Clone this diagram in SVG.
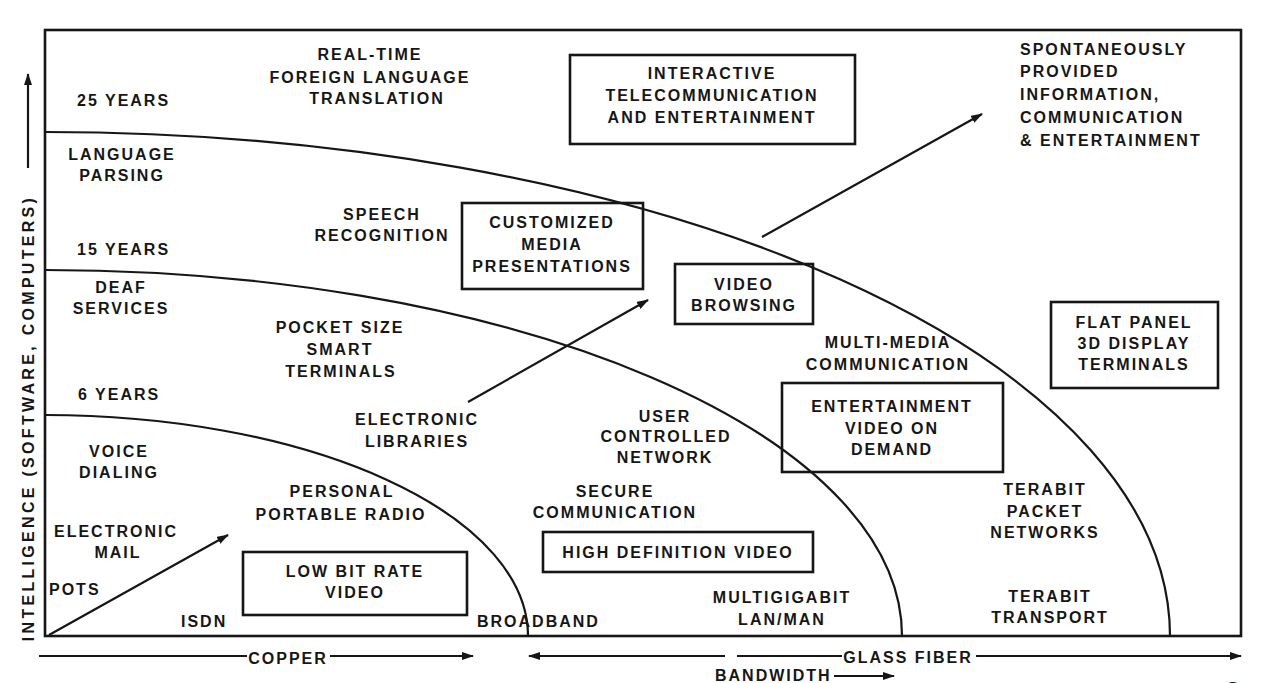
<svg xmlns="http://www.w3.org/2000/svg" width="1262" height="683" viewBox="0 0 1262 683">
<style>
text{font-family:"Liberation Sans",Arial,sans-serif;font-size:16px;font-weight:bold;letter-spacing:2px;fill:#161616}
.c{text-anchor:middle}
.ln{fill:none;stroke:#161616;stroke-width:2.2}
.bx{fill:none;stroke:#161616;stroke-width:2.6}
.ar{fill:none;stroke:#161616;stroke-width:2.2;marker-end:url(#ah)}
</style>
<defs>
<marker id="ah" viewBox="0 0 12 8" refX="11" refY="4" markerWidth="12" markerHeight="8" markerUnits="userSpaceOnUse" orient="auto">
<path d="M0,0 L12,4 L0,8 z" fill="#161616"/>
</marker>
</defs>
<rect width="1262" height="683" fill="#fff"/>
<g id="frame">
<rect x="45" y="30" width="1196" height="606" class="bx"/>
</g>
<g id="curves">
<path class="ln" d="M45,132 A1125,504 0 0 1 1170,636"/>
<path class="ln" d="M45,270 A857,366 0 0 1 902,636"/>
<path class="ln" d="M45,415 A483,221 0 0 1 528,636"/>
</g>
<g id="axes">
<line class="ar" x1="28" y1="168" x2="28" y2="74"/>
<text transform="translate(34,418) rotate(-90)" class="c" style="letter-spacing:3.3px">INTELLIGENCE (SOFTWARE, COMPUTERS)</text>
<line class="ln" x1="39" y1="656" x2="247" y2="656"/>
<text x="288" y="664" class="c">COPPER</text>
<line class="ar" x1="330" y1="656" x2="473" y2="656"/>
<line class="ar" x1="725" y1="656" x2="529" y2="656"/>
<line class="ln" x1="737" y1="656" x2="842" y2="656"/>
<text x="908" y="663" class="c">GLASS FIBER</text>
<line class="ar" x1="976" y1="656" x2="1241" y2="656"/>
<text x="715" y="681">BANDWIDTH</text>
<line class="ar" x1="834" y1="676" x2="894" y2="676"/>
<text x="1226" y="696" style="font-size:20px;font-weight:normal">Sc</text>
</g>
<g id="connectors">
<line class="ar" x1="49" y1="635" x2="228" y2="535"/>
<line class="ar" x1="468" y1="402" x2="648" y2="300"/>
<line class="ar" x1="762" y1="237" x2="982" y2="114"/>
</g>
<g id="n-years">
<text x="77" y="106">25 YEARS</text>
<text x="77" y="255">15 YEARS</text>
<text x="78" y="400">6 YEARS</text>
</g>
<g id="n-language-parsing"><text x="122" y="160" class="c">LANGUAGE</text><text x="122" y="181" class="c">PARSING</text></g>
<g id="n-deaf"><text x="121" y="293" class="c">DEAF</text><text x="121" y="314" class="c">SERVICES</text></g>
<g id="n-voice"><text x="119" y="457" class="c">VOICE</text><text x="119" y="478" class="c">DIALING</text></g>
<g id="n-email"><text x="116" y="537" class="c">ELECTRONIC</text><text x="118" y="558" class="c">MAIL</text></g>
<g id="n-pots"><text x="49" y="595">POTS</text></g>
<g id="n-isdn"><text x="181" y="627">ISDN</text></g>
<g id="n-translation"><text x="370" y="60" class="c">REAL-TIME</text><text x="370" y="83" class="c">FOREIGN LANGUAGE</text><text x="377" y="104" class="c">TRANSLATION</text></g>
<g id="n-speech"><text x="382" y="220" class="c">SPEECH</text><text x="382" y="241" class="c">RECOGNITION</text></g>
<g id="n-pocket"><text x="340" y="333" class="c">POCKET SIZE</text><text x="340" y="355" class="c">SMART</text><text x="341" y="377" class="c">TERMINALS</text></g>
<g id="n-libraries"><text x="417" y="425" class="c">ELECTRONIC</text><text x="417" y="447" class="c">LIBRARIES</text></g>
<g id="n-radio"><text x="342" y="497" class="c">PERSONAL</text><text x="341" y="520" class="c">PORTABLE RADIO</text></g>
<g id="n-lowbit"><rect x="243" y="552" width="224" height="63" class="bx"/><text x="355" y="577" class="c">LOW BIT RATE</text><text x="355" y="598" class="c">VIDEO</text></g>
<g id="n-broadband"><text x="477" y="627">BROADBAND</text></g>
<g id="n-secure"><text x="615" y="497" class="c">SECURE</text><text x="615" y="518" class="c">COMMUNICATION</text></g>
<g id="n-hdv"><rect x="543" y="532" width="270" height="40" class="bx"/><text x="678" y="558" class="c">HIGH DEFINITION VIDEO</text></g>
<g id="n-user"><text x="665" y="422" class="c">USER</text><text x="666" y="442" class="c">CONTROLLED</text><text x="665" y="463" class="c">NETWORK</text></g>
<g id="n-multigigabit"><text x="782" y="603" class="c">MULTIGIGABIT</text><text x="782" y="625" class="c">LAN/MAN</text></g>
<g id="n-customized"><rect x="462" y="203" width="181" height="86" class="bx"/><text x="552" y="228" class="c">CUSTOMIZED</text><text x="552" y="250" class="c">MEDIA</text><text x="552" y="272" class="c">PRESENTATIONS</text></g>
<g id="n-browsing"><rect x="675" y="264" width="138" height="60" class="bx"/><text x="744" y="290" class="c">VIDEO</text><text x="744" y="311" class="c">BROWSING</text></g>
<g id="n-interactive"><rect x="570" y="55" width="285" height="89" class="bx"/><text x="712" y="79" class="c">INTERACTIVE</text><text x="712" y="101" class="c">TELECOMMUNICATION</text><text x="712" y="123" class="c">AND ENTERTAINMENT</text></g>
<g id="n-multimedia"><text x="888" y="348" class="c">MULTI-MEDIA</text><text x="888" y="370" class="c">COMMUNICATION</text></g>
<g id="n-vod"><rect x="782" y="383" width="221" height="89" class="bx"/><text x="892" y="412" class="c">ENTERTAINMENT</text><text x="892" y="434" class="c">VIDEO ON</text><text x="892" y="455" class="c">DEMAND</text></g>
<g id="n-packet"><text x="1045" y="495" class="c">TERABIT</text><text x="1045" y="517" class="c">PACKET</text><text x="1045" y="538" class="c">NETWORKS</text></g>
<g id="n-transport"><text x="1050" y="602" class="c">TERABIT</text><text x="1050" y="623" class="c">TRANSPORT</text></g>
<g id="n-flatpanel"><rect x="1051" y="302" width="167" height="86" class="bx"/><text x="1134" y="328" class="c">FLAT PANEL</text><text x="1134" y="349" class="c">3D DISPLAY</text><text x="1134" y="370" class="c">TERMINALS</text></g>
<g id="n-spontaneous"><text x="1020" y="55">SPONTANEOUSLY</text><text x="1020" y="77">PROVIDED</text><text x="1020" y="100">INFORMATION,</text><text x="1020" y="123">COMMUNICATION</text><text x="1020" y="146">&amp; ENTERTAINMENT</text></g>
</svg>
